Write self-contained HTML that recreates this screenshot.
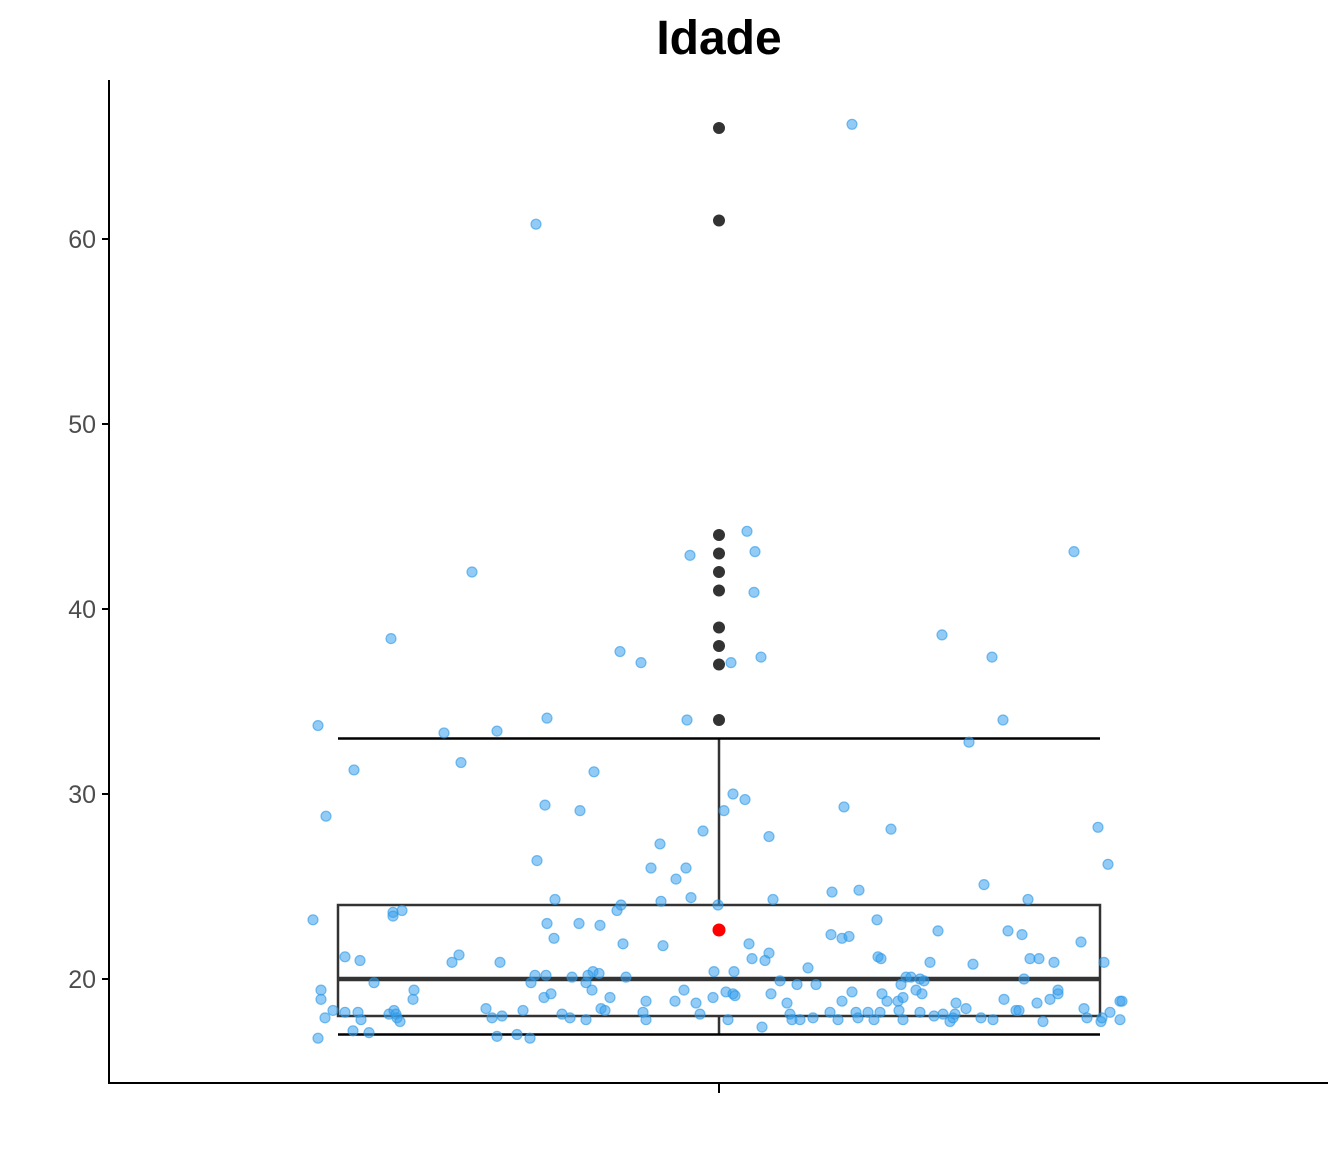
<!DOCTYPE html>
<html><head><meta charset="utf-8"><style>
html,body{margin:0;padding:0;background:#fff;}
svg{display:block;font-family:"Liberation Sans",sans-serif;}
</style></head><body>
<svg id="c" width="1344" height="1152" viewBox="0 0 1344 1152" xmlns="http://www.w3.org/2000/svg">
<text x="719" y="54" text-anchor="middle" font-size="48" font-weight="bold" fill="#000">Idade</text>
<g id="axes"></g>
<g id="box"></g>
<g id="pts"></g>
<g id="outl"></g>
</svg>
<script>
const yTicks=[20,30,40,50,60];
const boxStats=[17,18,20,24,33]; // min,q1,median,q3,max
const meanValue=[22.65];
const outliers=[34,37,38,39,41,42,43,44,61,66];
const jitter=[-0.406,-0.401,-0.393,-0.365,-0.398,-0.398,-0.394,-0.401,-0.386,-0.374,
-0.374,-0.359,-0.366,-0.361,-0.358,-0.350,-0.345,-0.328,-0.326,-0.326,
-0.317,-0.330,-0.325,-0.323,-0.322,-0.319,-0.306,-0.305,-0.275,-0.258,
-0.247,-0.267,-0.260,-0.222,-0.219,-0.233,-0.227,-0.217,-0.222,-0.202,
-0.189,-0.196,-0.183,-0.172,-0.174,-0.182,-0.164,-0.172,-0.165,-0.184,
-0.173,-0.188,-0.175,-0.168,-0.157,-0.149,-0.147,-0.139,-0.125,-0.140,
-0.119,-0.133,-0.126,-0.120,-0.131,-0.127,-0.118,-0.114,-0.109,-0.133,
-0.099,-0.078,-0.102,-0.098,-0.096,-0.093,-0.076,-0.073,-0.073,-0.059,
-0.068,-0.058,-0.056,-0.044,-0.029,-0.032,-0.033,-0.043,-0.028,-0.016,
-0.035,-0.023,-0.019,-0.006,-0.005,-0.001,0.005,0.014,0.026,0.012,
0.028,0.036,0.035,0.042,0.050,0.054,0.030,0.050,0.033,0.046,
0.015,0.007,0.014,0.016,0.009,0.043,0.052,0.061,0.068,0.071,
0.073,0.081,0.089,0.078,0.097,0.094,0.111,0.119,0.123,0.133,
0.125,0.133,0.113,0.140,0.112,0.123,0.130,0.137,0.139,0.149,
0.155,0.161,0.158,0.159,0.162,0.172,0.163,0.168,0.179,0.180,
0.182,0.184,0.184,0.187,0.192,0.197,0.201,0.205,0.201,0.203,
0.211,0.215,0.219,0.223,0.224,0.231,0.234,0.236,0.237,0.247,
0.250,0.254,0.262,0.265,0.273,0.274,0.284,0.285,0.289,0.297,
0.300,0.303,0.305,0.309,0.311,0.320,0.318,0.324,0.331,0.335,
0.339,0.339,0.355,0.362,0.365,0.368,0.379,0.382,0.385,0.389,
0.391,0.383,0.401,0.403,0.401];
const ages=[23.2,33.7,28.8,31.3,19.4,18.9,17.9,16.8,18.3,18.2,
21.2,21.0,17.2,18.2,17.8,17.1,19.8,38.4,23.6,23.4,
23.7,18.1,18.3,18.1,17.9,17.7,18.9,19.4,33.3,31.7,
42.0,20.9,21.3,33.4,20.9,18.4,17.9,18.0,16.9,17.0,
16.8,18.3,60.8,34.1,29.4,26.4,24.3,23.0,22.2,20.2,
20.2,19.8,19.0,19.2,18.1,17.9,20.1,29.1,31.2,23.0,
22.9,19.8,20.4,20.3,20.2,19.4,18.4,18.3,19.0,17.8,
37.7,37.1,23.7,24.0,21.9,20.1,18.2,17.8,18.8,27.3,
26.0,24.2,21.8,18.8,42.9,34.0,26.0,25.4,24.4,28.0,
19.4,18.7,18.1,19.0,20.4,24.0,29.1,30.0,29.7,37.1,
44.2,43.1,40.9,37.4,27.7,24.3,21.9,21.4,21.1,21.0,
20.4,19.3,19.2,19.1,17.8,17.4,19.2,19.9,18.7,18.1,
17.8,17.8,20.6,19.7,19.7,17.9,18.2,17.8,18.8,19.3,
29.3,66.2,24.7,24.8,22.4,22.2,22.3,18.2,17.9,18.2,
17.8,18.2,23.2,21.2,21.1,28.1,19.2,18.8,18.8,18.3,
19.7,19.0,17.8,20.1,20.1,19.4,20.0,19.9,18.2,19.2,
20.9,18.0,22.6,38.6,18.1,17.7,17.9,18.1,18.7,18.4,
32.8,20.8,17.9,25.1,37.4,17.8,34.0,18.9,22.6,18.3,
18.3,22.4,20.0,24.3,21.1,21.1,18.7,17.7,18.9,20.9,
19.2,19.4,43.1,22.0,18.4,17.9,28.2,17.7,20.9,26.2,
18.2,17.9,18.8,18.8,17.8];
const NS='http://www.w3.org/2000/svg';
const yS=v=>979-(v-20)*18.5;
const xS=j=>719+j*1000;
function mk(p,t,a){const e=document.createElementNS(NS,t);for(const k in a)e.setAttribute(k,a[k]);p.appendChild(e);return e;}
const ax=document.getElementById('axes');
let l=mk(ax,'line',{x1:109,y1:80,x2:109,y2:1083,stroke:'#000','stroke-width':2});


l=mk(ax,'line',{x1:108,y1:1083,x2:1328,y2:1083,stroke:'#000','stroke-width':2});


l=mk(ax,'line',{x1:719,y1:1083,x2:719,y2:1093,stroke:'#000','stroke-width':2});


yTicks.forEach(v=>{
 const t=mk(ax,'line',{x1:102,y1:yS(v),x2:109,y2:yS(v),stroke:'#000','stroke-width':2});
 
 
 const tx=mk(ax,'text',{x:96,y:yS(v)+9,'text-anchor':'end','font-size':25,fill:'#4d4d4d'});
 tx.textContent=v;
 
 
});
const bx=document.getElementById('box');
const L=xS(-0.381),R=xS(0.381),C=xS(0);
const [mn,q1,md,q3,mx]=boxStats;
l=mk(bx,'line',{x1:C,y1:yS(q3),x2:C,y2:yS(mx),stroke:'#333','stroke-width':2.5});


l=mk(bx,'line',{x1:C,y1:yS(q1),x2:C,y2:yS(mn),stroke:'#333','stroke-width':2.5});


l=mk(bx,'line',{x1:L,y1:yS(mx),x2:R,y2:yS(mx),stroke:'#000','stroke-width':2.5});


l=mk(bx,'line',{x1:L,y1:yS(mn),x2:R,y2:yS(mn),stroke:'#000','stroke-width':2.5});


l=mk(bx,'rect',{x:L,y:yS(q3),width:R-L,height:yS(q1)-yS(q3),fill:'none',stroke:'#333','stroke-width':2.5});


l=mk(bx,'line',{x1:L,y1:yS(md),x2:R,y2:yS(md),stroke:'#333','stroke-width':4.5});


const ol=document.getElementById('outl');
outliers.forEach(v=>{
 const c=mk(ol,'circle',{cx:C,cy:yS(v),r:6,fill:'#333'});
 
 
});
const pg=document.getElementById('pts');
ages.forEach((v,i)=>{
 const c=mk(pg,'circle',{cx:xS(jitter[i]),cy:yS(v),r:5,fill:'rgba(56,160,236,0.55)',stroke:'rgba(40,150,230,0.6)','stroke-width':1.2});
 
 
});
const m=mk(ol,'circle',{cx:C,cy:yS(meanValue[0]),r:6.5,fill:'#ff0000'});


</script>
</body></html>
